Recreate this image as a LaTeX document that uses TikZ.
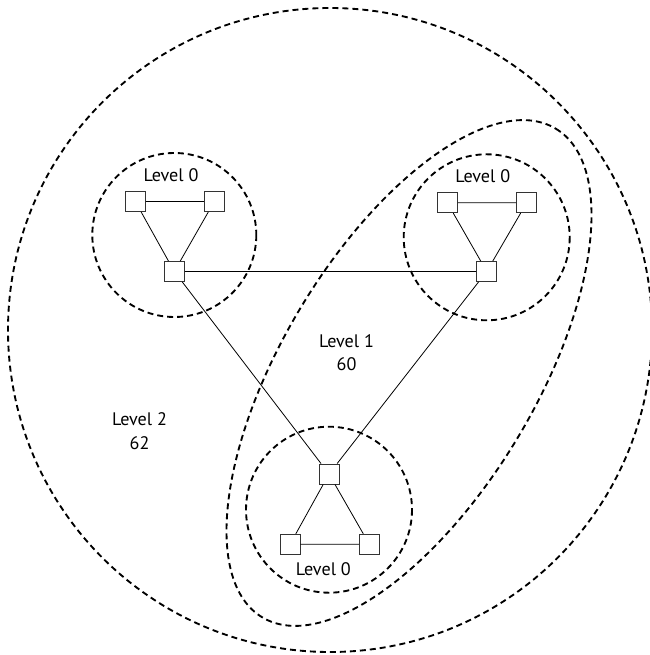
\documentclass[tikz,border=0pt]{standalone}
\usepackage{fontspec}
\setmainfont{PT Sans}
\usetikzlibrary{positioning}
\tikzset{%
  sw/.style={draw=black!80,line width=0.7pt,minimum size=15pt,inner sep=0pt,fill=white},
  lvl/.style={line width=1.4pt,dash pattern=on 4.5pt off 3pt},
  lbl/.style={font=\fontsize{13.6}{17.5}\selectfont,align=center,inner sep=0pt}
}
\begin{document}
\begin{tikzpicture}[x=0.75pt,y=-0.75pt]

    \useasboundingbox (0,0) rectangle (649,655);

    % Regions
    \draw[lvl] (330,330) circle (322);
    \draw[lvl,rotate around={59:(409,373)}] (409,373) ellipse [x radius=285,y radius=126.5];
    \draw[lvl] (174.3,235) circle (82);
    \draw[lvl] (486.7,237.3) circle (83);
    \draw[lvl] (329,509.7) circle (83);

    % Switches
    \node[sw] (a1) at (135.3,201.5) {};
    \node[sw] (a2) at (214.3,201.5) {};
    \node[sw] (a3) at (174.3,271.5) {};
    \node[sw] (b1) at (447.3,202.7) {};
    \node[sw] (b2) at (526.7,202.7) {};
    \node[sw] (b3) at (486.7,271.5) {};
    \node[sw] (c3) at (329,474) {};
    \node[sw] (c1) at (290,544.3) {};
    \node[sw] (c2) at (369.3,544.3) {};

    % Links
    \foreach \g in {a,b,c}
        \draw[line width=0.6pt] (\g1) -- (\g2) (\g1) -- (\g3) (\g2) -- (\g3);
    \draw[line width=0.6pt] (a3) -- (b3) (a3) -- (c3) (b3) -- (c3);

    % Labels
    \node[lbl] (l0a) at (171,175) {Level 0};
    \node[lbl] (l0b) at (482.7,176) {Level 0};
    \node[lbl] (l0c) at (323.3,569.3) {Level 0};
    \node[lbl] (l1) at (346.5,352.5) {Level 1\\60};
    \node[lbl] (l2) at (139.5,431) {Level 2\\62};

\end{tikzpicture}
\end{document}
